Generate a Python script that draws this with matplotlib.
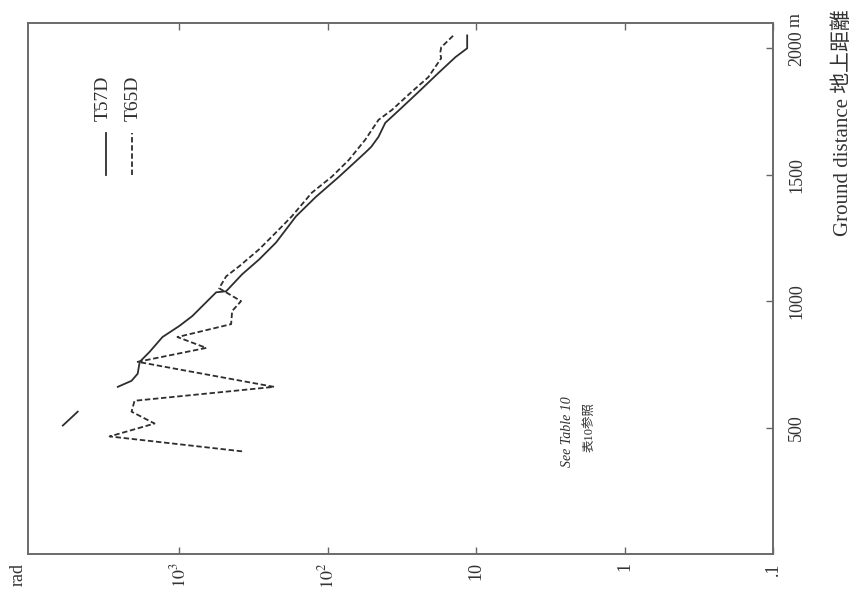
import numpy as np
import matplotlib.pyplot as plt
from matplotlib.ticker import FixedLocator, NullLocator

# T57D (solid) - ground distance in m, dose in rad ; nan = gap in the curve
t57d_dist = [508, 563, np.nan, 661, 685, 713, 760, 799, 858, 902, 941, 996, 1035, 1039,
             1106, 1165, 1232, 1335, 1413, 1492, 1587, 1610, 1650, 1705, 1756, 1827,
             1902, 1965, 2000, 2051]
t57d_dose = [6100, 4840, np.nan, 2600, 2100, 1910, 1850, 1590, 1300, 1000, 818, 659, 565, 484,
             378, 290, 223, 164, 120, 84, 56, 51, 45.5, 41, 33, 24.5,
             18, 13.8, 11.5, 11.5]

# T65D (dashed)
t65d_dist = [406, 465, 516, 563, 606, 661, 760, 815, 858, 909, 961, 1000, 1051,
             1098, 1138, 1205, 1272, 1335, 1429, 1492, 1559, 1638, 1717, 1756,
             1827, 1886, 1961, 1980, 2004, 2055]
t65d_dose = [378, 2950, 1470, 2100, 2005, 230, 1910, 659, 1030, 448, 441, 384, 540,
             484, 395, 290, 223, 175, 128, 94, 72, 56, 45.5, 37,
             27.3, 21, 17.2, 17.5, 17.2, 14]

dose_ticks = [1e3, 1e2, 10, 1, 0.1]
dose_labels = ['$10^3$', '$10^2$', '10', '1', '.1']
dist_ticks = [500, 1000, 1500, 2000]
dist_labels = ['500', '1000', '1500', '2000']

serif = ['Liberation Serif', 'Noto Sans CJK JP']
ink = '#2e2e2e'
plt.rcParams['font.family'] = serif
plt.rcParams['mathtext.fontset'] = 'stix'

fig = plt.figure(figsize=(8.57, 5.94), dpi=100)
ax = fig.add_axes([28/857, 1-554/594, 745/857, 531/594])

ax.plot(t57d_dose, t57d_dist, color=ink, lw=1.3)
ax.plot(t65d_dose, t65d_dist, color=ink, lw=1.3, dashes=(3, 1.5))

ax.set_xscale('log')
ax.set_xlim(10**4.02, 0.1)
ax.set_ylim(0, 2100)

ax.xaxis.set_major_locator(FixedLocator(dose_ticks))
ax.xaxis.set_minor_locator(NullLocator())
ax.set_xticklabels(dose_labels, rotation=90, fontsize=13, color='#333333')
ax.yaxis.set_major_locator(FixedLocator(dist_ticks))
ax.set_yticklabels(dist_labels, rotation=90, fontsize=13, color='#333333', va='center')

ax.tick_params(axis='x', direction='in', length=5, width=1, color='#666666',
               top=True, bottom=True, pad=6)
ax.tick_params(axis='y', direction='in', length=5, width=1, color='#666666',
               left=False, right=True, labelleft=False, labelright=True, pad=11)
for s in ax.spines.values():
    s.set_color('#6a6a6a')
    s.set_linewidth(1.4)

# legend drawn by hand, rotated like the rest of the page
ax.plot([0.105, 0.105], [0.714, 0.793], transform=ax.transAxes, color=ink, lw=1.3)
ax.plot([0.140, 0.140], [0.714, 0.793], transform=ax.transAxes, color=ink, lw=1.3,
        dashes=(3, 1.5))
ax.text(0.101, 0.815, 'T57D', transform=ax.transAxes, rotation=90, ha='center',
        va='bottom', fontsize=14, color=ink)
ax.text(0.141, 0.815, 'T65D', transform=ax.transAxes, rotation=90, ha='center',
        va='bottom', fontsize=14, color=ink)

ax.text(0.7235, 0.23, 'See Table 10', transform=ax.transAxes, rotation=90,
        ha='center', va='center', fontsize=10, style='italic', color=ink)
ax.text(0.754, 0.239, '表10参照', transform=ax.transAxes, rotation=90,
        ha='center', va='center', fontsize=9, color=ink)

fig.text(18/857, 1-575/594, 'rad', rotation=90, ha='center', va='center',
         fontsize=13, color='#333333')
fig.text(795/857, 1-20/594, 'm', rotation=90, ha='center', va='center',
         fontsize=13, color='#333333')
fig.text(843/857, 1-123/594, 'Ground distance 地上距離', rotation=90, ha='center',
         va='center', fontsize=15, color='#333333')

fig.savefig('out.png', dpi=100)
